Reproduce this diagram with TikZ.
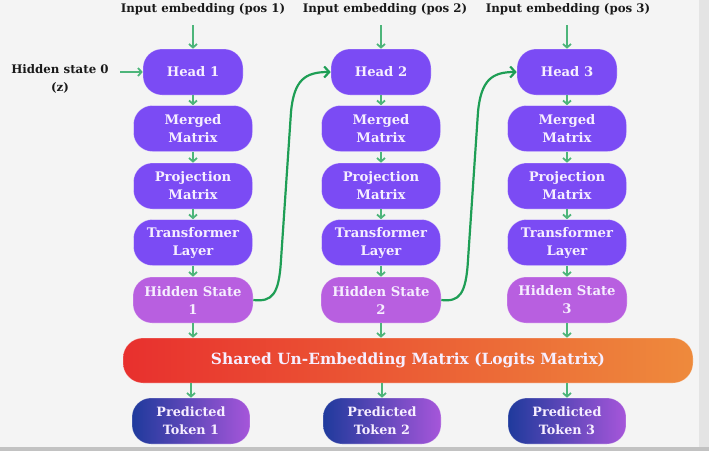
\documentclass[tikz,border=0pt]{standalone}
\usepackage{fontspec}
\setmainfont{DejaVu Serif}
\usetikzlibrary{arrows.meta}
\definecolor{bgc}{HTML}{F4F4F4}
\definecolor{edgec}{HTML}{E4E4E4}
\definecolor{purp}{HTML}{7B4BF4}
\definecolor{hidc}{HTML}{B85FE0}
\definecolor{boxtxt}{HTML}{F6EEFF}
\definecolor{arrc}{HTML}{4DB57A}
\definecolor{curvc}{HTML}{1E9E55}
\definecolor{barl}{HTML}{E8302E}
\definecolor{barr}{HTML}{EE8A3C}
\definecolor{predl}{HTML}{1F3A9C}
\definecolor{predr}{HTML}{A656DA}
\definecolor{labc}{HTML}{1A1A1A}
\begin{document}
\begin{tikzpicture}[x=1pt,y=-1pt,
  base/.style={rounded corners=19pt, inner sep=0pt, align=center, text=boxtxt,
    font=\fontsize{13.2}{18}\selectfont\bfseries, draw=white, draw opacity=0.35, line width=0.6pt},
  pbox/.style={base, fill=purp, minimum width=119pt, minimum height=46pt},
  hbox/.style={base, fill=hidc, minimum width=120pt, minimum height=46pt},
  obox/.style={base, left color=predl, right color=predr, minimum width=118pt, minimum height=46pt,
    font=\fontsize{12.8}{18}\selectfont\bfseries},
  barbox/.style={base, left color=barl, right color=barr, minimum width=570pt, minimum height=45pt,
    rounded corners=20pt, font=\fontsize{15.4}{18}\selectfont\bfseries},
  lab/.style={text=labc, font=\fontsize{11.8}{18}\selectfont\bfseries, inner sep=0pt, align=center},
  sarrow/.style={draw=arrc, line width=1.8pt, -{Straight Barb[length=3.5pt,width=8pt]}},
  carrow/.style={draw=curvc, line width=2.2pt, -{Straight Barb[length=5pt,width=11pt]}}
]
\useasboundingbox (0,0) rectangle (709,451);
\fill[bgc] (0,0) rectangle (709,451);
\fill[edgec] (699,0) rectangle (709,451);
\fill[edgec!85!black] (0,447) rectangle (709,451);

% labels
\node[lab] (l1) at (203,9) {Input embedding (pos 1)};
\node[lab] (l2) at (385,9) {Input embedding (pos 2)};
\node[lab] (l3) at (568,9) {Input embedding (pos 3)};
\node[lab] (hs0) at (60,79) {Hidden state 0\\(z)};

% column 1
\node[pbox, minimum width=100pt] (h1) at (193,72) {Head 1};
\node[pbox] (m1) at (193,128.5) {Merged\\Matrix};
\node[pbox] (p1) at (193,186) {Projection\\Matrix};
\node[pbox] (t1) at (193,242.5) {Transformer\\Layer};
\node[hbox] (s1) at (193,300) {Hidden State\\1};
% column 2
\node[pbox, minimum width=100pt] (h2) at (381,72) {Head 2};
\node[pbox] (m2) at (381,128.5) {Merged\\Matrix};
\node[pbox] (p2) at (381,186) {Projection\\Matrix};
\node[pbox] (t2) at (381,242.5) {Transformer\\Layer};
\node[hbox] (s2) at (381,300) {Hidden State\\2};
% column 3
\node[pbox, minimum width=100pt] (h3) at (567,72) {Head 3};
\node[pbox] (m3) at (567,128.5) {Merged\\Matrix};
\node[pbox] (p3) at (567,186) {Projection\\Matrix};
\node[pbox] (t3) at (567,242.5) {Transformer\\Layer};
\node[hbox] (s3) at (567,300) {Hidden State\\3};

% bar
\node[barbox] (bar) at (408,360.5) {Shared Un-Embedding Matrix (Logits Matrix)};

% predicted
\node[obox] (o1) at (191,421) {Predicted\\Token 1};
\node[obox] (o2) at (382,421) {Predicted\\Token 2};
\node[obox] (o3) at (567,421) {Predicted\\Token 3};

% input arrows
\coordinate (i1) at (193,25);
\coordinate (i2) at (381,25);
\coordinate (i3) at (567,25);
\coordinate (z0) at (120,72);
\draw[sarrow] (i1) -- (h1.north);
\draw[sarrow] (i2) -- (h2.north);
\draw[sarrow] (i3) -- (h3.north);
\draw[sarrow] (z0) -- (h1.west);

\foreach \c in {1,2,3}{
  \draw[sarrow] (h\c.south) -- (m\c.north);
  \draw[sarrow] (m\c.south) -- (p\c.north);
  \draw[sarrow] (p\c.south) -- (t\c.north);
  \draw[sarrow] (t\c.south) -- (s\c.north);
  \draw[sarrow] (s\c.south) -- (s\c.south |- bar.north);
  \draw[sarrow] (o\c.north |- bar.south) -- (o\c.north);
}

% recurrent curves
\draw[carrow] (s1.east) .. controls (272,302) and (279,295) .. (281,260)
  -- (291,112) .. controls (294,80) and (305,72) .. (h2.west);
\draw[carrow] (s2.east) .. controls (459,302) and (466,295) .. (468,260)
  -- (478,112) .. controls (481,80) and (492,72) .. (h3.west);
\end{tikzpicture}
\end{document}
